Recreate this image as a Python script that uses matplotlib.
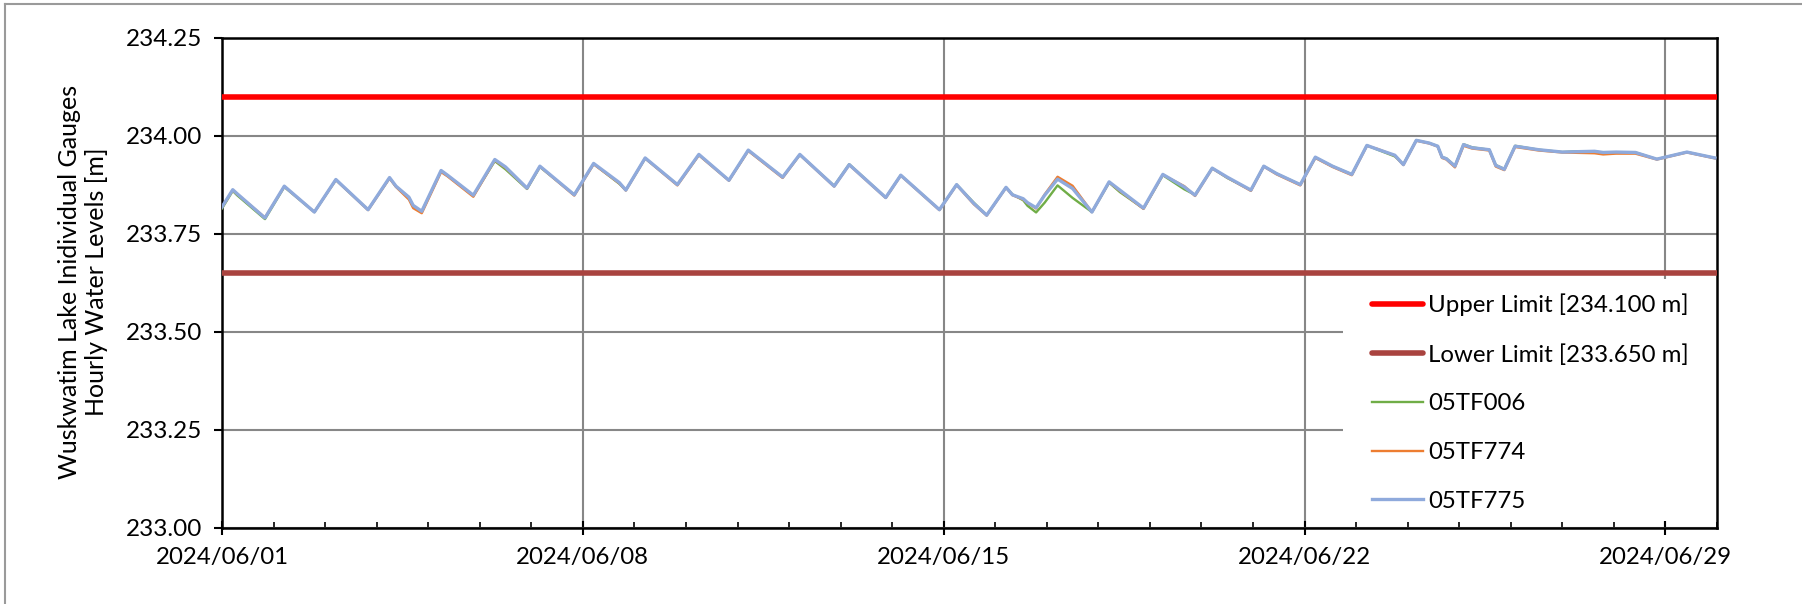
import numpy as np
import matplotlib
matplotlib.use("Agg")
import matplotlib.pyplot as plt
import matplotlib.dates as mdates
from matplotlib.patches import Rectangle
from matplotlib.lines import Line2D

plt.rcParams['font.family'] = ['Lato', 'DejaVu Sans']

# hours after 2024/06/01 00:00 (vertices)
hours = [0, 5, 7, 20, 29, 43, 53, 68, 78, 81, 87, 89, 93, 102, 105, 117, 127, 132,
         142, 148, 164, 173, 185, 188, 197, 212, 222, 236, 245, 261, 269, 285, 292,
         309, 316, 334, 342, 350, 356, 365, 368, 373, 375, 379, 383, 389, 396, 405,
         413, 418, 429, 438, 448, 453, 461, 468, 479, 485, 491, 502, 509, 517, 526,
         533, 538, 546, 550, 556, 562, 566, 568, 570, 574, 578, 582, 590, 593, 597,
         602, 613, 624, 631, 639, 643, 649, 658, 668, 682, 695]

tf775 = [233.819, 233.863, 233.853, 233.791, 233.872, 233.806, 233.889, 233.812, 233.894,
         233.872, 233.844, 233.823, 233.808, 233.912, 233.900, 233.849, 233.940, 233.921,
         233.867, 233.923, 233.850, 233.930, 233.881, 233.862, 233.944, 233.876, 233.953,
         233.887, 233.964, 233.895, 233.953, 233.872, 233.927, 233.843, 233.900, 233.812,
         233.876, 233.828, 233.798, 233.869, 233.850, 233.840, 233.830, 233.817, 233.849,
         233.890, 233.866, 233.806, 233.883, 233.862, 233.816, 233.902, 233.870, 233.849,
         233.918, 233.895, 233.862, 233.923, 233.904, 233.876, 233.946, 233.923, 233.902,
         233.976, 233.966, 233.951, 233.927, 233.989, 233.982, 233.974, 233.946, 233.942,
         233.923, 233.978, 233.970, 233.965, 233.925, 233.915, 233.974, 233.965, 233.959,
         233.960, 233.961, 233.958, 233.959, 233.958, 233.941, 233.959, 233.944]

tf774 = [233.818, 233.862, 233.852, 233.792, 233.871, 233.806, 233.888, 233.811, 233.892,
         233.870, 233.838, 233.816, 233.803, 233.908, 233.897, 233.845, 233.938, 233.919,
         233.866, 233.922, 233.848, 233.928, 233.879, 233.861, 233.943, 233.874, 233.951,
         233.886, 233.962, 233.893, 233.952, 233.871, 233.926, 233.842, 233.899, 233.811,
         233.875, 233.826, 233.797, 233.868, 233.849, 233.838, 233.829, 233.815, 233.851,
         233.896, 233.873, 233.806, 233.882, 233.860, 233.814, 233.901, 233.872, 233.847,
         233.917, 233.894, 233.860, 233.922, 233.902, 233.874, 233.944, 233.921, 233.900,
         233.975, 233.967, 233.950, 233.926, 233.988, 233.981, 233.973, 233.944, 233.940,
         233.920, 233.975, 233.968, 233.963, 233.922, 233.913, 233.972, 233.963, 233.958,
         233.957, 233.956, 233.953, 233.955, 233.955, 233.940, 233.958, 233.943]

tf006 = [233.815, 233.860, 233.849, 233.788, 233.870, 233.806, 233.888, 233.812, 233.893,
         233.871, 233.843, 233.821, 233.807, 233.911, 233.899, 233.848, 233.936, 233.915,
         233.865, 233.921, 233.850, 233.929, 233.878, 233.862, 233.943, 233.876, 233.952,
         233.887, 233.963, 233.895, 233.952, 233.873, 233.928, 233.843, 233.900, 233.812,
         233.876, 233.830, 233.798, 233.869, 233.851, 233.836, 233.822, 233.805, 233.830,
         233.874, 233.842, 233.806, 233.881, 233.857, 233.815, 233.900, 233.864, 233.850,
         233.918, 233.893, 233.862, 233.923, 233.904, 233.876, 233.945, 233.923, 233.902,
         233.976, 233.965, 233.948, 233.928, 233.989, 233.982, 233.974, 233.946, 233.943,
         233.924, 233.979, 233.971, 233.965, 233.926, 233.916, 233.975, 233.965, 233.959,
         233.961, 233.960, 233.958, 233.958, 233.958, 233.941, 233.959, 233.944]

upper_limit = 234.100
lower_limit = 233.650
y_ticks = [233.00, 233.25, 233.50, 233.75, 234.00, 234.25]

t = np.datetime64('2024-06-01T00:00') + np.array(hours, dtype='timedelta64[h]')

fig = plt.figure(figsize=(18.02, 6.04), dpi=100)
ax = fig.add_axes([222/1802, 1 - 528/604, (1717-222)/1802, (528-38)/604])

ax.axhline(upper_limit, color='#FF0000', lw=4, zorder=3, solid_capstyle='round',
           label='Upper Limit [234.100 m]')
ax.axhline(lower_limit, color='#A9433F', lw=4, zorder=3, solid_capstyle='round',
           label='Lower Limit [233.650 m]')
ax.plot(t, tf006, color='#70AD47', lw=1.7, zorder=4, label='05TF006')
ax.plot(t, tf774, color='#ED7D31', lw=1.7, zorder=5, label='05TF774')
ax.plot(t, tf775, color='#8FAADC', lw=2.4, zorder=6, label='05TF775')

ax.set_xlim(np.datetime64('2024-06-01'), np.datetime64('2024-06-30'))
ax.set_ylim(233.0, 234.25)
ax.set_yticks(y_ticks)
ax.yaxis.set_major_formatter(matplotlib.ticker.FormatStrFormatter('%.2f'))

ax.xaxis.set_major_locator(mdates.DayLocator(bymonthday=[1, 8, 15, 22, 29]))
ax.xaxis.set_minor_locator(mdates.DayLocator())
ax.xaxis.set_major_formatter(mdates.DateFormatter('%Y/%m/%d'))

ax.grid(True, which='major', color='#878787', lw=1.5)
for s in ax.spines.values():
    s.set_color('black')
    s.set_linewidth(1.8)

ax.tick_params(axis='x', which='major', direction='inout', length=10, width=1.5,
               labelsize=17.3, pad=9)
ax.tick_params(axis='x', which='minor', direction='in', length=4, width=1.2)
ax.tick_params(axis='y', direction='out', length=6, width=1.5, labelsize=17.5, pad=8)

# white box behind the legend hides the grid there
ax.add_patch(Rectangle((0.75, 0.014), 0.25, 0.495, transform=ax.transAxes,
                       facecolor='white', edgecolor='none', zorder=1.8))

leg = ax.legend(loc='upper left', bbox_to_anchor=(0.769, 0.478), frameon=False,
                fontsize=17.3, handlelength=2.15, handletextpad=0.2,
                labelspacing=1.15, borderaxespad=0, borderpad=0)

fig.text(83/1802, 0.533, 'Wuskwatim Lake Inidividual Gauges\nHourly Water Levels [m]',
         rotation=90, ha='center', va='center', fontsize=18, linespacing=1.2)

# chart area border (left and top edges visible)
fig.add_artist(Line2D([4.5/1802, 4.5/1802], [0, 1 - 3.5/604], color='#9a9a9a', lw=1.5))
fig.add_artist(Line2D([4.5/1802, 1], [1 - 3.5/604, 1 - 3.5/604], color='#9a9a9a', lw=1.5))

fig.savefig('out.png', dpi=100)
